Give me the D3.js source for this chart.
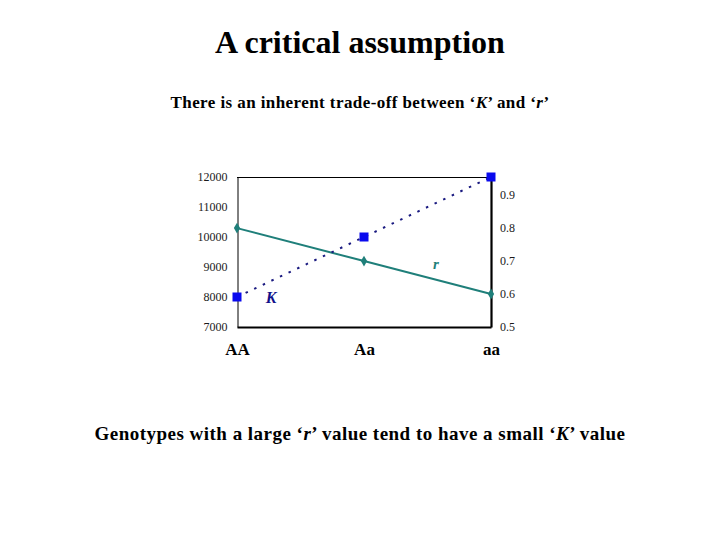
<!DOCTYPE html>
<html>
<head>
<meta charset="utf-8">
<script src="https://cdn.jsdelivr.net/npm/d3@7"></script>
<style>
  body { margin: 0; background: #fff; }
  text { font-family: "Liberation Serif", "Times New Roman", serif; }
</style>
</head>
<body>
<div id="vis"></div>
<script>
"use strict";
var genotypes = ['AA', 'Aa', 'aa'];
var kValues = [8000, 10000, 12000];
var rValues = [0.8, 0.7, 0.6];
var kTicks = [7000, 8000, 9000, 10000, 11000, 12000];
var rTicks = [0.5, 0.6, 0.7, 0.8, 0.9];

var width = 720, height = 540;
var plot = { left: 237, right: 491, top: 177, bottom: 327 };

var svg = d3.select('#vis')
    .append('svg')
    .attr('width', width)
    .attr('height', height);

svg.append('rect')
    .attr('width', width)
    .attr('height', height)
    .attr('fill', '#fff');

// titles
svg.append('text')
    .attr('x', 360)
    .attr('y', 53)
    .attr('text-anchor', 'middle')
    .style('font-size', '32px')
    .style('font-weight', 'bold')
    .text('A critical assumption');

var sub = svg.append('text')
    .attr('x', 360)
    .attr('y', 108)
    .attr('text-anchor', 'middle')
    .style('font-size', '17px')
    .style('letter-spacing', '0.42px')
    .style('font-weight', 'bold');
sub.append('tspan').text('There is an inherent trade-off between \u2018');
sub.append('tspan').style('font-style', 'italic').text('K');
sub.append('tspan').text('\u2019 and \u2018');
sub.append('tspan').style('font-style', 'italic').text('r');
sub.append('tspan').text('\u2019');

var foot = svg.append('text')
    .attr('x', 360)
    .attr('y', 440)
    .attr('text-anchor', 'middle')
    .style('font-size', '19px')
    .style('letter-spacing', '0.48px')
    .style('font-weight', 'bold');
foot.append('tspan').text('Genotypes with a large \u2018');
foot.append('tspan').style('font-style', 'italic').text('r');
foot.append('tspan').text('\u2019 value tend to have a small \u2018');
foot.append('tspan').style('font-style', 'italic').text('K');
foot.append('tspan').text('\u2019 value');

// scales
var x = d3.scalePoint()
    .domain(genotypes)
    .range([plot.left, plot.right]);
var yK = d3.scaleLinear()
    .domain([7000, 12000])
    .range([plot.bottom, plot.top]);
var yR = d3.scaleLinear()
    .domain([0.5, 0.955])
    .range([plot.bottom, plot.top]);

// frame top
svg.append('line')
    .attr('x1', plot.left).attr('x2', plot.right)
    .attr('y1', plot.top + 0.5).attr('y2', plot.top + 0.5)
    .attr('stroke', '#000')
    .attr('stroke-width', 1);

var leftAxis = svg.append('g')
    .attr('transform', 'translate(' + (plot.left + 0.5) + ',0)')
    .call(d3.axisLeft(yK).tickValues(kTicks).tickSize(0).tickPadding(10).tickFormat(d3.format('d')));
leftAxis.select('.domain').attr('stroke', '#000').attr('stroke-width', 1);
leftAxis.selectAll('text')
    .style('font-family', '"Liberation Serif", serif')
    .style('font-size', '12px')
    .attr('fill', '#1a1a1a');

var rightAxis = svg.append('g')
    .attr('transform', 'translate(' + plot.right + ',0)')
    .call(d3.axisRight(yR).tickValues(rTicks).tickSize(0).tickPadding(9).tickFormat(d3.format('.1f')));
rightAxis.select('.domain').attr('stroke', '#000').attr('stroke-width', 2.2);
rightAxis.selectAll('text')
    .style('font-family', '"Liberation Serif", serif')
    .style('font-size', '12px')
    .attr('fill', '#1a1a1a');

var bottomAxis = svg.append('g')
    .attr('transform', 'translate(0,' + plot.bottom + ')')
    .call(d3.axisBottom(x).tickSize(0));
bottomAxis.select('.domain').attr('stroke', '#000').attr('stroke-width', 2.2);
bottomAxis.selectAll('text')
    .attr('y', 28)
    .attr('dy', 0)
    .style('font-family', '"Liberation Serif", serif')
    .style('font-size', '17px')
    .style('font-weight', 'bold')
    .attr('fill', '#000');

// series
var kData = genotypes.map(function (g, i) { return { g: g, v: kValues[i] }; });
var rData = genotypes.map(function (g, i) { return { g: g, v: rValues[i] }; });

svg.append('path')
    .datum(rData)
    .attr('fill', 'none')
    .attr('stroke', '#1f7f7a')
    .attr('stroke-width', 2)
    .attr('d', d3.line()
        .x(function (d) { return x(d.g); })
        .y(function (d) { return yR(d.v); }));

svg.selectAll('.r-pt')
    .data(rData)
    .enter().append('path')
    .classed('r-pt', true)
    .attr('transform', function (d) { return 'translate(' + x(d.g) + ',' + yR(d.v) + ')'; })
    .attr('d', d3.symbol().type(d3.symbolDiamond).size(34))
    .attr('fill', '#1f7f7a');

svg.append('path')
    .datum(kData)
    .attr('fill', 'none')
    .attr('stroke', '#1a1a80')
    .attr('stroke-width', 2)
    .attr('stroke-dasharray', '2.5,7')
    .attr('d', d3.line()
        .x(function (d) { return x(d.g); })
        .y(function (d) { return yK(d.v); }));

svg.selectAll('.k-pt')
    .data(kData)
    .enter().append('rect')
    .classed('k-pt', true)
    .attr('x', function (d) { return x(d.g) - 4.5; })
    .attr('y', function (d) { return yK(d.v) - 4.5; })
    .attr('width', 9)
    .attr('height', 9)
    .attr('fill', '#0a0aee');

// series labels
svg.append('text')
    .attr('x', x('AA') + 34)
    .attr('y', yK(8000) + 6)
    .attr('text-anchor', 'middle')
    .style('font-size', '16px')
    .style('font-weight', 'bold')
    .style('font-style', 'italic')
    .attr('fill', '#10108a')
    .text('K');

svg.append('text')
    .attr('x', 436)
    .attr('y', yR(0.7) + 8)
    .attr('text-anchor', 'middle')
    .style('font-size', '15px')
    .style('font-weight', 'bold')
    .style('font-style', 'italic')
    .attr('fill', '#1f7f7a')
    .text('r');
</script>
</body>
</html>
